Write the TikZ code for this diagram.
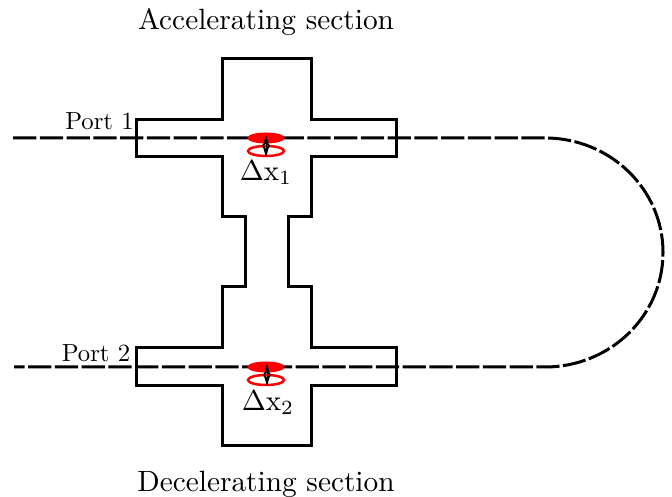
\documentclass[tikz,border=0pt]{standalone}
\usepackage{graphicx}
\usetikzlibrary{arrows.meta}
\tikzset{
  cavity/.style={line width=1.2pt,line join=miter},
  beam/.style={line width=1.2pt,dash pattern=on 9.3pt off 1.4pt},
  bunchfill/.style={fill=red,draw=red,line width=0.4pt},
  bunchopen/.style={draw=red,line width=1pt},
  shiftarrow/.style={line width=0.4pt,{Stealth[length=5pt,width=3pt]}-{Stealth[length=5pt,width=3pt]}},
  title/.style={font=\fontsize{10}{12}\selectfont,inner sep=0pt},
  portlabel/.style={font=\fontsize{9.9}{12}\selectfont,inner sep=0pt},
  dxlabel/.style={font=\fontsize{10}{12}\selectfont,inner sep=0pt}
}
\begin{document}
\begin{tikzpicture}[x=0.4pt,y=-0.4pt]
\useasboundingbox (0,-1) rectangle (672,496);
% cavity outline
\draw[cavity] (222,58) -- (311,58) -- (311,119) -- (396.6,119) -- (396.6,156) -- (311,156) -- (311,216)
  -- (288,216) -- (288,286) -- (311,286) -- (311,347) -- (396.6,347) -- (396.6,385) -- (311,385) -- (311,445)
  -- (222,445) -- (222,385) -- (136,385) -- (136,347) -- (222,347) -- (222,286) -- (245,286) -- (245,216)
  -- (222,216) -- (222,156) -- (136,156) -- (136,119) -- (222,119) -- cycle;
% beam
\coordinate (in) at (13,137);
\coordinate (t) at (545,137);
\coordinate (m) at (663,251.5);
\coordinate (b) at (545,366);
\coordinate (out) at (14,366);
\draw[beam] (in) -- (t) .. controls (610,137) and (663,188) .. (m)
  .. controls (663,315) and (610,366) .. (b) -- (out);
% bunches
\fill[bunchfill] (266,137) ellipse [x radius=18,y radius=5];
\draw[bunchopen] (266,150) ellipse [x radius=18,y radius=5];
\coordinate (a1) at (266,134); \coordinate (a2) at (266,156);
\draw[shiftarrow] (a1) -- (a2);
\fill[bunchfill] (266,366) ellipse [x radius=18,y radius=5];
\draw[bunchopen] (266,379) ellipse [x radius=18,y radius=5];
\coordinate (c1) at (267,363); \coordinate (c2) at (267,385);
\draw[shiftarrow] (c1) -- (c2);
% labels
\node[title] (acc) at (266,21) {\scalebox{1.173}{Accelerating section}};
\node[title] (dec) at (266,483) {\scalebox{1.173}{Decelerating section}};
\node[portlabel] (p1) at (99.5,120.5) {Port 1};
\node[portlabel] (p2) at (96,352) {Port 2};
\node[dxlabel] (d1) at (266,171.5) {\scalebox{1.155}{$\Delta\mathrm{x}_1$}};
\node[dxlabel] (d2) at (268,401.5) {\scalebox{1.155}{$\Delta\mathrm{x}_2$}};
\end{tikzpicture}
\end{document}
